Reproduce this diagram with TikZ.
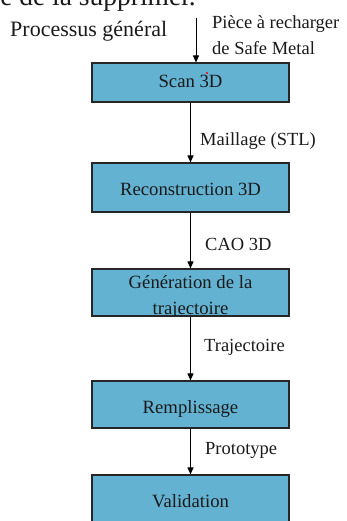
\documentclass[tikz,border=0pt]{standalone}
\usepackage{fontspec}
\setmainfont{Liberation Serif}
\usetikzlibrary{arrows.meta}
\definecolor{boxfill}{HTML}{63B2D2}
\definecolor{txt}{HTML}{1A1A1A}
\begin{document}
\begin{tikzpicture}[x=1pt,y=-1pt,
  box/.style={draw=black!85, line width=1.1pt, fill=boxfill, minimum width=197pt, inner sep=0pt},
  boxtext/.style={anchor=base, inner sep=0pt, text=txt, font=\fontsize{18.7}{22}\selectfont},
  lbl/.style={anchor=base west, inner sep=0pt, text=txt, font=\fontsize{18.5}{22}\selectfont},
  flow/.style={-{Triangle[length=7pt,width=6pt]}, line width=0.9pt, draw=black}]
\useasboundingbox (0,0) rectangle (347,521);
\clip (0,0) rectangle (347,521);

% cut-off page text at the top
\node[anchor=base east, inner sep=0pt, text=txt, font=\fontsize{27.5}{30}\selectfont] (cut) at (196,6) {e de la supprimer.};

% boxes
\node[box, minimum height=39pt] (scan) at (190.5,82.5) {};
\node[box, minimum height=49pt] (recon) at (190.5,187.5) {};
\node[box, minimum height=47pt] (gen) at (190.5,292.5) {};
\node[box, minimum height=47pt] (rempl) at (190.5,404.5) {};
\node[box, minimum height=49pt] (valid) at (190.5,499.5) {};

% box texts
\node[boxtext] (scant) at (190.5,88) {Scan 3D};
\node[boxtext] (recont) at (190.5,196) {Reconstruction 3D};
\begin{scope}
  \clip (gen.north west) rectangle (gen.south east);
  \node[boxtext] (gent1) at (190.5,288) {Génération de la};
  \node[boxtext] (gent2) at (190.5,314.5) {trajectoire};
\end{scope}
\draw[black!85, line width=1.1pt] (gen.north west) rectangle (gen.south east);
\node[boxtext] (remplt) at (190.5,413) {Remplissage};
\node[boxtext] (validt) at (190.5,507.5) {Validation};

% red mark
\node[circle, fill=red, inner sep=0pt, minimum size=2.2pt] (mark) at (207,73) {};

% input arrow and labels
\coordinate (inp) at (196,18);
\draw[flow] (inp) -- (inp |- scan.north);
\node[anchor=base west, inner sep=0pt, text=txt, font=\fontsize{22}{26}\selectfont] (proc) at (10,37) {Processus général};
\node[lbl] (piece1) at (212,29) {Pièce à recharger};
\node[lbl] (piece2) at (212,55) {de Safe Metal};

% connectors
\draw[flow] (scan) -- (recon);
\draw[flow] (recon) -- (gen);
\draw[flow] (gen) -- (rempl);
\draw[flow] (rempl) -- (valid);

% connector labels
\node[lbl] (l1) at (200,146) {Maillage (STL)};
\node[lbl] (l2) at (205,250.5) {CAO 3D};
\node[lbl] (l3) at (204,351.5) {Trajectoire};
\node[lbl] (l4) at (205,454) {Prototype};
\end{tikzpicture}
\end{document}
